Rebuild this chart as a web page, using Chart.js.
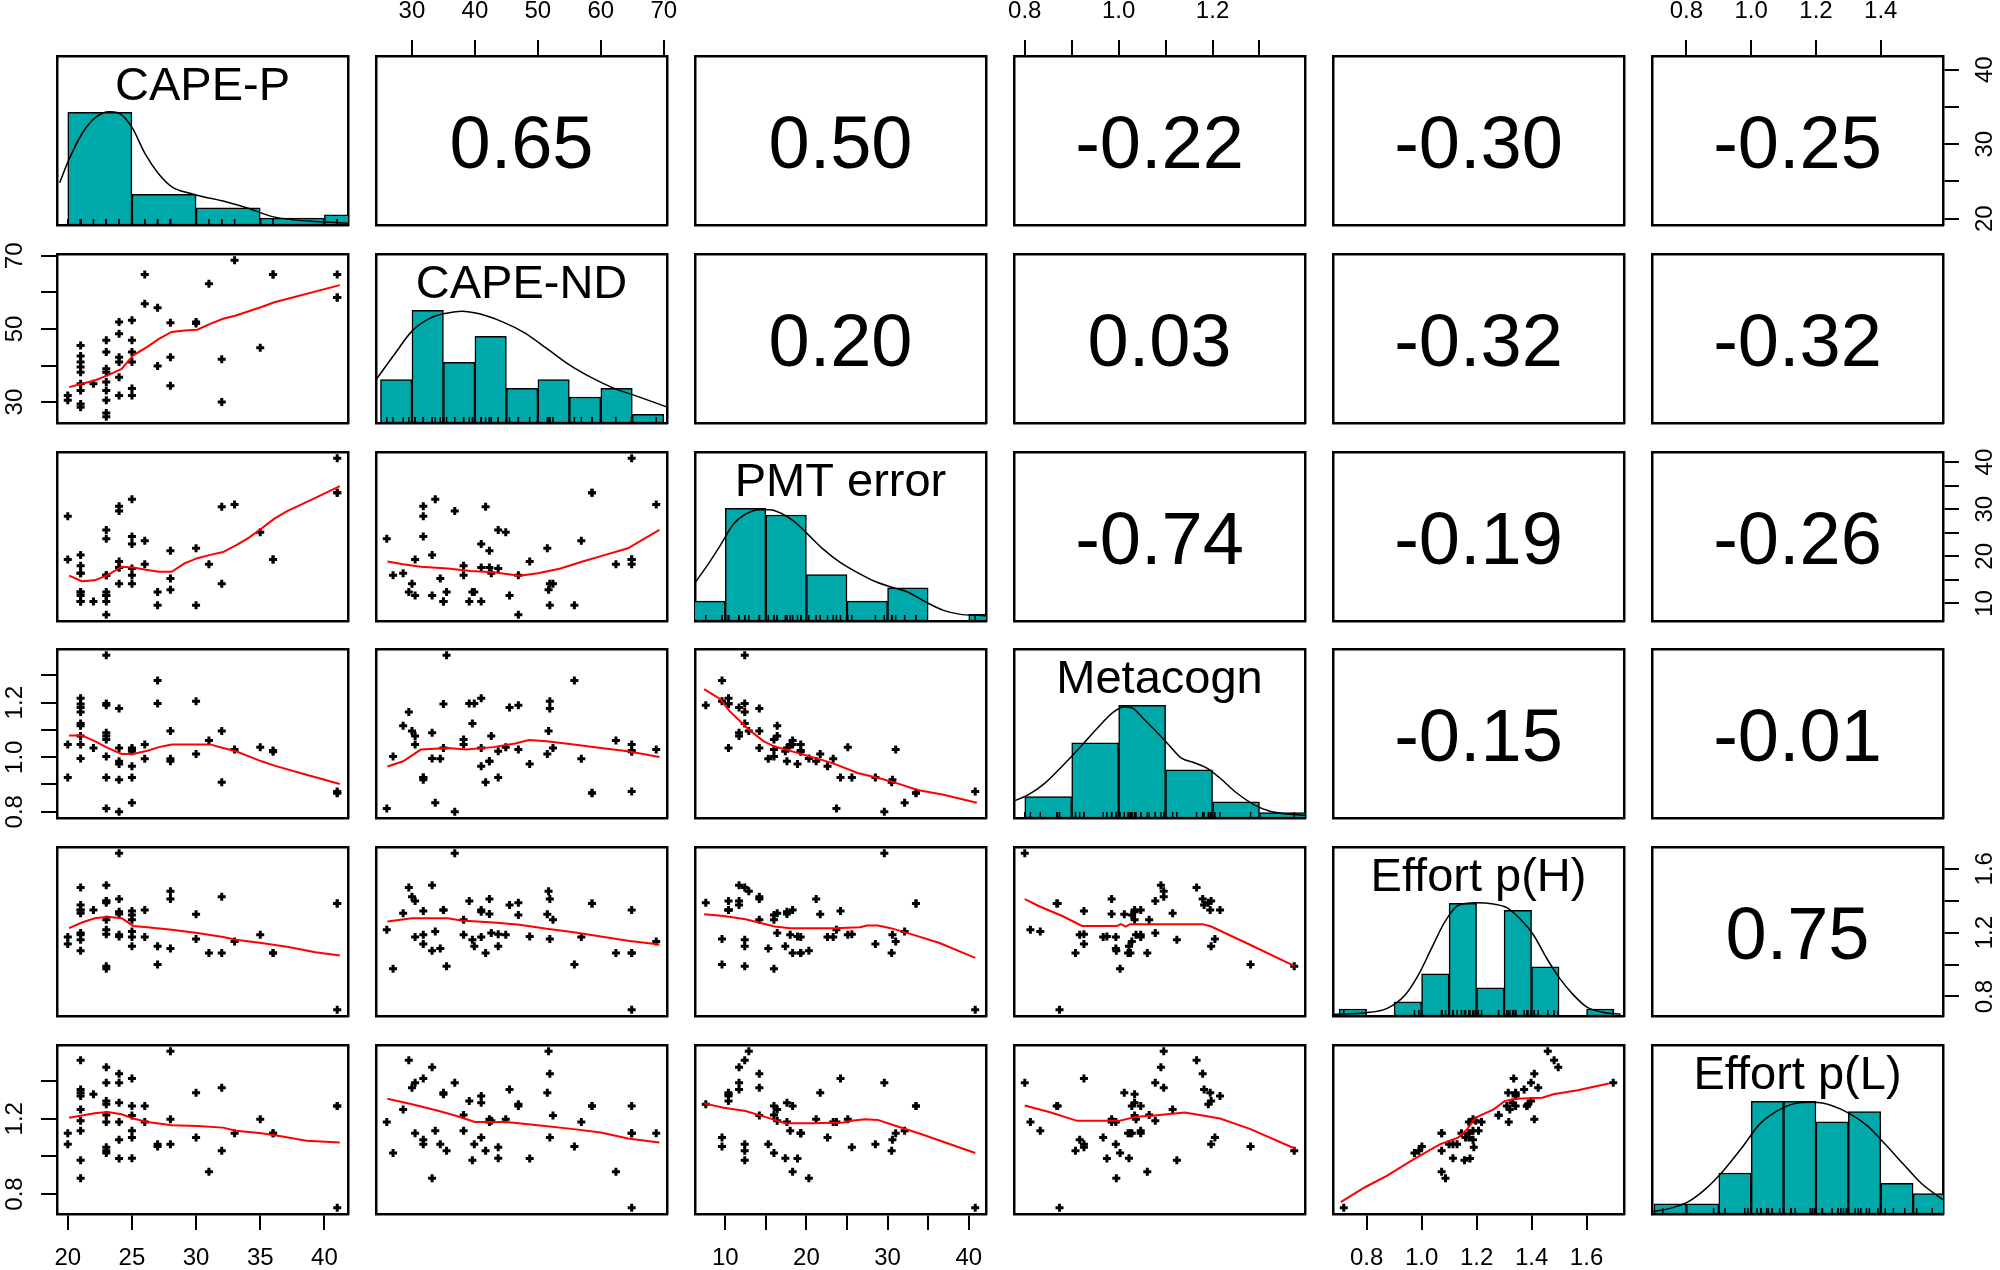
<!DOCTYPE html>
<html>
<head>
<meta charset="utf-8">
<script src="https://cdn.jsdelivr.net/npm/chart.js@4.4.1/dist/chart.umd.min.js"></script>
<style>
  html, body { margin: 0; padding: 0; background: #fff; }
  #grid { position: relative; width: 2000px; height: 1270px; overflow: hidden; }
  #grid canvas { position: absolute; }
</style>
</head>
<body>
<div id="grid"></div>
<script>
// ---- observations (one value per subject, same order in every array) ----
const capeP = [20,20, 21,21,21,21,21,21,21,21,21, 22, 23,23,23,23,23,23,23,23,23,
  24,24,24,24,24,24, 25,25,25,25,25,25, 26,26, 27,27, 28,28,28, 30,30, 31, 32,32, 33, 35, 36,36, 41,41,41];
const capeND = [31.8,30.5, 33.2,39.6,42.6,41.0,38.2,45.5,28.6,29.5,35.0, 35.0,
  26.0,43.7,27.0,38.2,35.5,30.5,33.2,39.1,46.9, 36.8,31.8,48.7,42.3,41.0,51.9,
  41.0,33.7,43.7,52.4,31.8,46.9, 56.9,64.9, 39.9,55.8, 42.3,34.5,51.7, 51.5,51.9,
  62.4, 41.7,30.0, 68.8, 44.9, 64.9,64.9, 64.9,58.6,58.6];
const pmtError = [28.5,19.3, 20.3,12.4,16.4,10.4,18.0,11.7,16.4,12.4,10.4, 10.4,
  23.7,25.6,16.0,16.0,12.4,11.7,11.7,10.4,7.6, 29.6,30.6,18.9,17.6,17.6,14.2,
  22.6,32.1,17.4,14.2,24.2,16.0, 23.3,18.3, 12.4,9.6, 21.2,15.3,12.9, 21.7,9.6,
  18.3, 30.5,14.2, 31.0, 25.1, 19.3,19.3, 40.8,33.5,33.5];
const metacogn = [0.926,1.047, 0.995,1.124,1.078,1.216,1.047,1.182,1.115,1.166,1.195, 1.034,
  0.812,0.926,1.003,1.065,1.374,1.078,1.090,1.197,1.191, 0.800,0.917,0.975,0.985,1.034,1.179,
  0.967,0.833,1.022,1.034,0.926,1.028, 0.994,1.047, 1.197,1.281, 0.985,0.994,1.096, 1.012,1.205,
  1.061, 0.908,1.096, 1.028, 1.037, 1.020,1.025, 0.874,0.868,0.870];
const effortH = [1.129,1.172, 1.087,1.156,1.197,1.342,1.187,1.373,1.321,1.482,1.342, 1.342,
  1.218,1.190,0.974,1.280,0.990,1.398,1.497,1.398,1.387, 1.697,1.187,1.176,1.317,1.331,1.410,
  1.172,1.207,1.114,1.280,1.335,1.310, 1.172,1.342, 1.114,1.001, 1.410,1.100,1.459, 1.315,1.160,
  1.073, 1.073,1.424, 1.145, 1.187, 1.073,1.073, 0.717,1.383,1.383];
const effortL = [1.065,1.123, 0.884,0.980,1.190,1.321,1.136,1.356,1.250,1.511,1.338, 1.330,
  1.183,1.048,1.018,1.220,1.030,1.391,1.474,1.294,1.277, 1.391,1.088,0.989,1.183,1.285,1.439,
  1.100,1.136,0.990,1.218,1.414,1.268, 1.183,1.268, 1.065,1.053, 1.197,1.065,1.559, 1.338,1.100,
  0.919, 1.030,1.365, 1.123, 1.197, 1.123,1.123, 0.727,1.268,1.268];

const names = ['CAPE-P', 'CAPE-ND', 'PMT error', 'Metacogn', 'Effort p(H)', 'Effort p(L)'];

// correlations, upper triangle row by row
const corrRow1 = ['0.65', '0.50', '-0.22', '-0.30', '-0.25'];
const corrRow2 = ['0.20', '0.03', '-0.32', '-0.32'];
const corrRow3 = ['-0.74', '-0.19', '-0.26'];
const corrRow4 = ['-0.15', '-0.01'];
const corrRow5 = ['0.75'];

// histograms (bin breaks and counts)
const capePBreaks = [20, 25, 30, 35, 40, 45];
const capePCounts = [33, 9, 5, 2, 3];
const capeNDBreaks = [25, 30, 35, 40, 45, 50, 55, 60, 65, 70];
const capeNDCounts = [5, 13, 7, 10, 4, 5, 3, 4, 1];
const pmtBreaks = [5, 10, 15, 20, 25, 30, 35, 40, 45];
const pmtCounts = [3, 17, 16, 7, 3, 5, 0, 1];
const metaBreaks = [0.8, 0.9, 1.0, 1.1, 1.2, 1.3, 1.4];
const metaCounts = [4, 14, 21, 9, 3, 1];
const effHBreaks = [0.7, 0.8, 0.9, 1.0, 1.1, 1.2, 1.3, 1.4, 1.5, 1.6, 1.7];
const effHCounts = [1, 0, 2, 6, 16, 4, 15, 7, 0, 1];
const effLBreaks = [0.7, 0.8, 0.9, 1.0, 1.1, 1.2, 1.3, 1.4, 1.5, 1.6];
const effLCounts = [1, 1, 4, 11, 11, 9, 10, 3, 2];

// density curves, in count units
const capePDensity = [[19.37,12.4],[20.07,19.0],[21.12,26.8],[22.17,31.5],[23.22,33.2],[23.92,32.9],
  [24.97,28.8],[26.01,21.0],[27.06,15.1],[28.11,11.2],[29.51,9.3],[30.56,8.3],[32.31,6.8],
  [34.06,4.9],[35.81,2.6],[37.56,1.5],[39.3,1.0],[42.1,0.5]];
const capeNDDensity = [[24.3,5.0],[27.2,7.9],[30.0,10.6],[32.9,12.1],[35.7,12.7],[37.9,12.9],
  [40.7,12.6],[44.3,11.7],[47.9,10.4],[51.4,8.6],[55.0,6.7],[58.6,5.2],[62.1,4.0],[65.7,3.1],[70.7,1.8]];
const pmtDensity = [[6.0,5.3],[7.85,8.5],[9.43,11.5],[11.0,14.6],[12.6,16.2],[14.2,16.8],[15.5,16.8],
  [16.8,16.3],[18.4,15.1],[20.0,13.3],[22.1,10.8],[24.2,8.8],[26.3,7.3],[28.4,6.0],[30.5,5.1],
  [32.6,4.3],[34.8,2.8],[36.9,1.6],[39.0,1.0],[41.1,0.85],[42.4,0.75]];
const metaDensity = [[0.775,3.1],[0.807,4.3],[0.843,6.5],[0.879,9.6],[0.916,13.0],[0.952,16.5],
  [0.988,19.7],[1.011,20.7],[1.029,20.5],[1.052,18.6],[1.079,16.2],[1.106,13.7],[1.133,11.2],
  [1.161,10.3],[1.188,9.3],[1.215,7.5],[1.251,4.7],[1.288,2.5],[1.324,1.2],[1.360,0.75],[1.401,0.5]];
const effHDensity = [[0.674,0.24],[0.795,0.47],[0.875,1.09],[0.940,2.98],[0.988,5.8],[1.036,9.6],
  [1.085,13.4],[1.133,15.7],[1.197,16.1],[1.262,15.9],[1.310,15.4],[1.358,13.8],[1.407,11.5],
  [1.455,8.2],[1.503,5.3],[1.552,3.0],[1.600,1.3],[1.664,0.5],[1.724,0.24]];
const effLDensity = [[0.691,0.23],[0.750,0.55],[0.806,1.2],[0.861,2.5],[0.916,4.3],[0.972,6.5],
  [1.027,8.8],[1.082,10.1],[1.138,10.8],[1.193,10.9],[1.248,10.6],[1.304,9.8],[1.359,8.6],
  [1.414,6.8],[1.469,4.9],[1.525,3.0],[1.594,1.35]];

// smooth (lowess) lines of the lower panels: [x, y]
const smoothNDvsP = [[20.1,34.1],[21.1,35.0],[22.1,35.9],[23.1,37.3],[24.2,39.1],[25.1,42.8],[26.2,45.1],
  [27.1,47.3],[28.1,49.2],[29.1,49.6],[30.1,49.8],[31.1,51.4],[32.1,52.8],[33.1,53.7],[35.1,56.0],[36.1,57.3],[41.2,62.0]];
const smoothPMTvsP = [[20.1,15.9],[21.1,14.7],[22.1,14.9],[23.1,16.0],[24.2,17.8],[25.1,17.6],[26.2,17.1],
  [27.1,16.7],[28.1,16.7],[29.1,18.5],[30.1,19.6],[31.1,20.3],[32.1,20.9],[33.1,22.3],[34.1,23.9],
  [35.1,25.9],[36.1,28.0],[37.1,29.6],[39.3,32.4],[41.2,34.9]];
const smoothPMTvsND = [[26.1,18.9],[28.6,18.3],[31.4,17.8],[35.7,17.4],[39.3,16.9],[42.9,16.6],[47.1,15.9],
  [50.0,16.4],[53.6,17.4],[57.1,18.9],[60.7,20.3],[64.3,21.7],[69.3,25.6]];
const smoothMetaVsP = [[20.1,1.080],[21.1,1.080],[22.1,1.059],[23.1,1.034],[24.2,1.012],[25.1,1.012],
  [26.2,1.024],[27.1,1.037],[28.1,1.047],[30.1,1.047],[31.1,1.047],[32.1,1.034],[33.1,1.022],[35.1,0.985],
  [36.1,0.969],[38.6,0.936],[41.2,0.902]];
const smoothMetaVsND = [[26.1,0.966],[28.6,0.985],[31.4,1.028],[35.7,1.034],[38.6,1.028],[42.9,1.037],
  [46.4,1.050],[48.6,1.063],[51.4,1.059],[55.7,1.047],[60.0,1.034],[64.3,1.022],[69.3,1.001]];
const smoothMetaVsPMT = [[7.4,1.250],[9.4,1.213],[10.5,1.170],[12.9,1.102],[14.7,1.059],[16.0,1.040],
  [18.9,1.016],[21.8,0.991],[23.7,0.973],[26.3,0.942],[29.0,0.923],[31.1,0.905],[33.7,0.880],[36.9,0.862],[41.0,0.833]];
const smoothHvsP = [[20.1,1.228],[21.1,1.263],[22.1,1.290],[23.1,1.300],[24.2,1.290],[25.1,1.242],[26.2,1.234],
  [28.1,1.218],[30.1,1.197],[32.1,1.172],[33.1,1.156],[35.1,1.135],[37.2,1.110],[39.3,1.077],[41.2,1.056]];
const smoothHvsND = [[26.1,1.269],[30.0,1.290],[35.7,1.290],[37.8,1.276],[42.9,1.263],[47.1,1.249],
  [51.4,1.224],[55.7,1.203],[60.0,1.176],[64.3,1.149],[69.3,1.125]];
const smoothHvsPMT = [[7.4,1.315],[9.8,1.304],[12.5,1.284],[16.1,1.238],[18.0,1.228],[20.7,1.228],[23.4,1.228],
  [26.6,1.234],[27.5,1.244],[28.8,1.244],[30.4,1.228],[33.2,1.186],[36.4,1.135],[40.8,1.042]];
const smoothHvsMeta = [[0.800,1.410],[0.833,1.362],[0.880,1.304],[0.922,1.242],[0.996,1.242],[1.005,1.253],
  [1.015,1.238],[1.024,1.253],[1.179,1.253],[1.197,1.238],[1.272,1.135],[1.375,0.990]];
const smoothLvsP = [[20.1,1.206],[21.1,1.218],[22.1,1.229],[23.1,1.236],[24.2,1.224],[25.1,1.201],[26.2,1.183],
  [28.1,1.166],[30.1,1.162],[32.1,1.153],[33.1,1.136],[35.1,1.123],[36.5,1.109],[38.6,1.083],[41.2,1.074]];
const smoothLvsND = [[26.1,1.307],[30.0,1.277],[34.3,1.241],[37.1,1.215],[40.0,1.183],[45.0,1.183],
  [50.0,1.166],[55.7,1.145],[60.0,1.127],[64.3,1.095],[69.3,1.074]];
const smoothLvsPMT = [[7.4,1.282],[9.8,1.259],[12.5,1.241],[15.2,1.206],[17.4,1.176],[20.7,1.176],[24.5,1.180],
  [25.6,1.189],[27.2,1.197],[28.8,1.194],[30.4,1.171],[34.2,1.118],[40.8,1.018]];
const smoothLvsMeta = [[0.800,1.271],[0.852,1.236],[0.912,1.189],[1.001,1.189],[1.038,1.211],[1.076,1.218],
  [1.141,1.233],[1.179,1.218],[1.216,1.201],[1.281,1.145],[1.375,1.042]];
const smoothLvsH = [[0.706,0.757],[0.794,0.836],[0.875,0.898],[0.972,0.986],[1.068,1.065],[1.133,1.100],
  [1.166,1.145],[1.197,1.206],[1.262,1.250],[1.302,1.294],[1.342,1.307],[1.439,1.312],[1.479,1.330],
  [1.568,1.352],[1.681,1.388]];

// axis ticks; labels for horizontal (top/bottom) and vertical (left/right) axes
const capePTicks = [20, 25, 30, 35, 40];
const capePLabelsH = ['20', '25', '30', '35', '40'];
const capePLabelsV = ['20', '', '30', '', '40'];
const capeNDTicks = [30, 40, 50, 60, 70];
const capeNDLabelsH = ['30', '40', '50', '60', '70'];
const capeNDLabelsV = ['30', '', '50', '', '70'];
const pmtTicks = [10, 15, 20, 25, 30, 35, 40];
const pmtLabelsH = ['10', '', '20', '', '30', '', '40'];
const pmtLabelsV = ['10', '', '20', '', '30', '', '40'];
const metaTicks = [0.8, 0.9, 1.0, 1.1, 1.2, 1.3];
const metaLabelsH = ['0.8', '', '1.0', '', '1.2', ''];
const metaLabelsV = ['0.8', '', '1.0', '', '1.2', ''];
const effHTicks = [0.8, 1.0, 1.2, 1.4, 1.6];
const effHLabelsH = ['0.8', '1.0', '1.2', '1.4', '1.6'];
const effHLabelsV = ['0.8', '', '1.2', '', '1.6'];
const effLTicks = [0.8, 1.0, 1.2, 1.4];
const effLLabelsH = ['0.8', '1.0', '1.2', '1.4'];
const effLLabelsV = ['0.8', '', '1.2', ''];

// ---- build ----
const FONT = '"Liberation Sans", Arial, Helvetica, sans-serif';
Chart.defaults.font.family = FONT;

const vars = [
  { name: names[0], data: capeP, ticks: capePTicks, labH: capePLabelsH, labV: capePLabelsV, breaks: capePBreaks, counts: capePCounts, dens: capePDensity },
  { name: names[1], data: capeND, ticks: capeNDTicks, labH: capeNDLabelsH, labV: capeNDLabelsV, breaks: capeNDBreaks, counts: capeNDCounts, dens: capeNDDensity },
  { name: names[2], data: pmtError, ticks: pmtTicks, labH: pmtLabelsH, labV: pmtLabelsV, breaks: pmtBreaks, counts: pmtCounts, dens: pmtDensity },
  { name: names[3], data: metacogn, ticks: metaTicks, labH: metaLabelsH, labV: metaLabelsV, breaks: metaBreaks, counts: metaCounts, dens: metaDensity },
  { name: names[4], data: effortH, ticks: effHTicks, labH: effHLabelsH, labV: effHLabelsV, breaks: effHBreaks, counts: effHCounts, dens: effHDensity },
  { name: names[5], data: effortL, ticks: effLTicks, labH: effLLabelsH, labV: effLLabelsV, breaks: effLBreaks, counts: effLCounts, dens: effLDensity }
];
const corrRows = [corrRow1, corrRow2, corrRow3, corrRow4, corrRow5];
const smooths = {
  '1,0': smoothNDvsP, '2,0': smoothPMTvsP, '2,1': smoothPMTvsND,
  '3,0': smoothMetaVsP, '3,1': smoothMetaVsND, '3,2': smoothMetaVsPMT,
  '4,0': smoothHvsP, '4,1': smoothHvsND, '4,2': smoothHvsPMT, '4,3': smoothHvsMeta,
  '5,0': smoothLvsP, '5,1': smoothLvsND, '5,2': smoothLvsPMT, '5,3': smoothLvsMeta, '5,4': smoothLvsH
};

const M = 60, W = 291, H = 169;
const LEFT0 = 57, TOP0 = 56, DX = 318.9, DY = 197.8;
const TICK_SIZE = 24;

const measure = document.createElement('canvas').getContext('2d');
measure.font = TICK_SIZE + 'px ' + FONT;

// R-style axis range: data range widened by 4% on each side
function limits(a) {
  const lo = Math.min(...a), hi = Math.max(...a), d = (hi - lo) * 0.04;
  return [lo - d, hi + d];
}

const panelText = {
  id: 'panelText',
  afterDatasetsDraw(chart, args, opts) {
    if (!opts.text) return;
    const { ctx, chartArea: a } = chart;
    ctx.save();
    ctx.font = opts.size + 'px ' + FONT;
    ctx.fillStyle = '#000';
    ctx.textAlign = 'center';
    ctx.textBaseline = 'alphabetic';
    ctx.fillText(opts.text, (a.left + a.right) / 2, a.top + opts.base);
    ctx.restore();
  }
};
Chart.register(panelText);

function axis(pos, lim, v, hiddenTicks) {
  const vertical = pos === 'left' || pos === 'right';
  const show = !!v;
  const labels = show ? (vertical ? v.labV : v.labH) : [];
  const ticks = show ? v.ticks : (hiddenTicks || []);
  let pad = 14;
  if (vertical && show) {
    const widest = Math.max(...labels.map(l => measure.measureText(l).width));
    pad = 26 - widest / 2;
  }
  return {
    type: 'linear',
    axis: vertical ? 'y' : 'x',
    position: pos,
    min: lim[0],
    max: lim[1],
    offset: false,
    afterFit: s => { if (vertical) s.width = M; else s.height = M; },
    afterBuildTicks: s => { s.ticks = ticks.map(t => ({ value: t })); },
    border: { display: true, color: '#000', width: 2.5 },
    grid: { display: show, drawOnChartArea: false, drawTicks: show, tickLength: 16, color: '#000', lineWidth: 2 },
    ticks: {
      display: show,
      autoSkip: false,
      color: '#000',
      font: { size: TICK_SIZE },
      padding: pad,
      minRotation: vertical ? 90 : 0,
      maxRotation: vertical ? 90 : 0,
      crossAlign: vertical ? 'center' : 'near',
      callback: (val, k) => labels[k]
    }
  };
}

const grid = document.getElementById('grid');

function makePanel(i, j) {
  const vx = vars[j], vy = vars[i];
  const cv = document.createElement('canvas');
  const cw = W + 2 * M, ch = H + 2 * M;
  cv.width = cw;
  cv.height = ch;
  cv.style.width = cw + 'px';
  cv.style.height = ch + 'px';
  cv.style.left = Math.round(LEFT0 + DX * j - M) + 'px';
  cv.style.top = Math.round(TOP0 + DY * i - M) + 'px';
  grid.appendChild(cv);

  const xl = limits(vx.data);
  let yl = limits(vy.data);
  const datasets = [];
  let text = {};
  let hiddenX = null;

  if (i === j) {
    const top = Math.max(...vx.counts) * 1.5;
    yl = [0, top];
    hiddenX = vx.breaks;
    const centers = vx.counts.map((c, k) => (vx.breaks[k] + vx.breaks[k + 1]) / 2);
    datasets.push({
      type: 'scatter',
      data: vx.data.map(x => ({ x, y: 0 })),
      pointStyle: 'line', pointRotation: 90, pointRadius: 6,
      pointBorderWidth: 1.5, pointBorderColor: '#000', borderColor: '#000',
      clip: 0
    });
    datasets.push({
      type: 'line',
      data: vx.dens.map(([x, y]) => ({ x, y })),
      borderColor: '#000', borderWidth: 1.5, pointRadius: 0,
      cubicInterpolationMode: 'monotone', fill: false, clip: 0
    });
    datasets.push({
      type: 'bar',
      data: centers.map((c, k) => ({ x: c, y: vx.counts[k] })),
      backgroundColor: '#00A9A9', borderColor: '#000', borderWidth: 1.5,
      borderSkipped: false, barPercentage: 1, categoryPercentage: 1, clip: 0
    });
    text = { text: vx.name, size: 47, base: 44 };
  } else if (i > j) {
    datasets.push({
      type: 'line',
      data: smooths[i + ',' + j].map(([x, y]) => ({ x, y })),
      borderColor: '#FF0000', borderWidth: 2, pointRadius: 0, tension: 0, fill: false
    });
    datasets.push({
      type: 'scatter',
      data: vx.data.map((x, k) => ({ x, y: vy.data[k] })),
      pointStyle: 'cross', pointRadius: 4, pointBorderWidth: 3,
      pointBorderColor: '#000', borderColor: '#000'
    });
  } else {
    text = { text: corrRows[i][j - i - 1], size: 74, base: H / 2 + 27 };
  }

  new Chart(cv, {
    type: 'scatter',
    data: { datasets },
    options: {
      responsive: false,
      maintainAspectRatio: false,
      animation: false,
      events: [],
      layout: { padding: 0 },
      plugins: { legend: { display: false }, tooltip: { enabled: false }, panelText: text },
      scales: {
        x: axis('bottom', xl, i === 5 && j % 2 === 0 ? vx : null, hiddenX),
        x2: axis('top', xl, i === 0 && j % 2 === 1 ? vx : null),
        y: axis('left', yl, j === 0 && i % 2 === 1 ? vy : null),
        y2: axis('right', yl, j === 5 && i % 2 === 0 ? vy : null)
      }
    }
  });
}

for (let i = 0; i < 6; i++) {
  for (let j = 0; j < 6; j++) makePanel(i, j);
}
</script>
</body>
</html>
